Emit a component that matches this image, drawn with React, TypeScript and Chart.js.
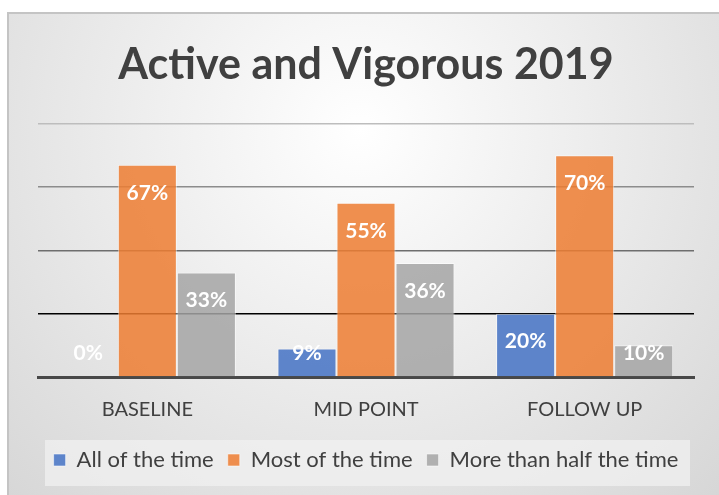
import React, { useEffect, useRef } from "react";
import { Chart, registerables } from "chart.js";

Chart.register(...registerables);

const TITLE = "Active and Vigorous 2019";
const categories = ["BASELINE", "MID POINT", "FOLLOW UP"];
const seriesNames = ["All of the time", "Most of the time", "More than half the time"];
const allOfTheTime = [0, 9, 20];
const mostOfTheTime = [67, 55, 70];
const moreThanHalf = [33, 36, 10];
const yTicks = [0, 20, 40, 60, 80];

const FONT = "Lato, 'Open Sans', sans-serif";

const backgroundPlugin = {
  id: "bgPlugin",
  beforeDraw(chart: any) {
    const { ctx, width, height } = chart;
    ctx.save();
    ctx.fillStyle = "#ffffff";
    ctx.fillRect(0, 0, width, height);
    const x0 = 8, y0 = 13;
    const g = ctx.createRadialGradient(360, 130, 0, 360, 130, 520);
    g.addColorStop(0, "#ffffff");
    g.addColorStop(1, "#d6d6d6");
    ctx.fillStyle = g;
    ctx.fillRect(x0, y0, width - x0 + 5, height - y0 + 5);
    ctx.strokeStyle = "#c4c4c4";
    ctx.lineWidth = 2;
    ctx.strokeRect(x0, y0, width - x0 + 10, height - y0 + 10);
    // legend backdrop
    ctx.fillStyle = "rgba(240,240,240,0.75)";
    ctx.fillRect(45, 440, 645, 46);
    ctx.restore();
  },
};

const labelPlugin = {
  id: "barLabels",
  afterDatasetsDraw(chart: any) {
    const { ctx } = chart;
    const bottom = chart.scales.y.getPixelForValue(0);
    ctx.save();
    ctx.fillStyle = "#ffffff";
    ctx.font = `bold 21px ${FONT}`;
    ctx.textAlign = "center";
    ctx.textBaseline = "middle";
    chart.data.datasets.forEach((ds: any, i: number) => {
      const meta = chart.getDatasetMeta(i);
      meta.data.forEach((bar: any, j: number) => {
        const v = ds.data[j];
        const y = Math.min(bar.y + 28, bottom - 24);
        ctx.fillText(`${v}%`, bar.x, y);
      });
    });
    ctx.restore();
  },
};

export default function App() {
  const ref = useRef<HTMLCanvasElement>(null);
  useEffect(() => {
    document.body.style.margin = "0";
    const gridColors: Record<number, string> = {
      0: "rgba(0,0,0,0)",
      20: "#000000",
      40: "#6e6e6e",
      60: "#8c8c8c",
      80: "#bdbdbd",
    };
    const chart = new Chart(ref.current!, {
      type: "bar",
      data: {
        labels: categories,
        datasets: [
          {
            label: seriesNames[0],
            data: allOfTheTime,
            backgroundColor: "rgba(68,114,196,0.85)",
            borderColor: "rgba(255,255,255,0.55)",
            borderWidth: 1,
          },
          {
            label: seriesNames[1],
            data: mostOfTheTime,
            backgroundColor: "rgba(237,125,49,0.85)",
            borderColor: "rgba(255,255,255,0.55)",
            borderWidth: 1,
          },
          {
            label: seriesNames[2],
            data: moreThanHalf,
            backgroundColor: "rgba(165,165,165,0.85)",
            borderColor: "rgba(255,255,255,0.55)",
            borderWidth: 1,
          },
        ],
      },
      options: {
        animation: false,
        responsive: false,
        maintainAspectRatio: false,
        layout: { padding: { left: 38, right: 25, top: 13, bottom: 14 } },
        datasets: { bar: { categoryPercentage: 0.81, barPercentage: 1 } },
        plugins: {
          title: {
            display: true,
            text: TITLE,
            color: "#404040",
            font: { family: FONT, size: 43, weight: "bold" },
            padding: { top: 26, bottom: 33 },
          },
          legend: {
            display: true,
            position: "bottom",
            labels: {
              color: "#404040",
              font: { family: FONT, size: 22 },
              boxWidth: 12,
              boxHeight: 12,
              padding: 14,
            },
          },
          tooltip: { enabled: false },
        },
        scales: {
          x: {
            grid: { display: false },
            border: { display: true, color: "#484848", width: 3 },
            ticks: {
              color: "#404040",
              font: { family: FONT, size: 20 },
              padding: 13,
            },
          },
          y: {
            min: 0,
            max: 80,
            afterBuildTicks: (axis: any) => {
              axis.ticks = yTicks.map((v) => ({ value: v }));
            },
            ticks: { display: false },
            border: { display: false },
            grid: {
              color: (c: any) => gridColors[c.tick?.value] ?? "#999",
              lineWidth: 1.5,
              drawTicks: false,
            },
          },
        },
      },
      plugins: [backgroundPlugin, labelPlugin],
    });
    return () => chart.destroy();
  }, []);
  return (
    <div style={{ position: "absolute", left: 0, top: 0, width: 719, height: 495 }}>
      <canvas ref={ref} width={719} height={495} />
    </div>
  );
}
